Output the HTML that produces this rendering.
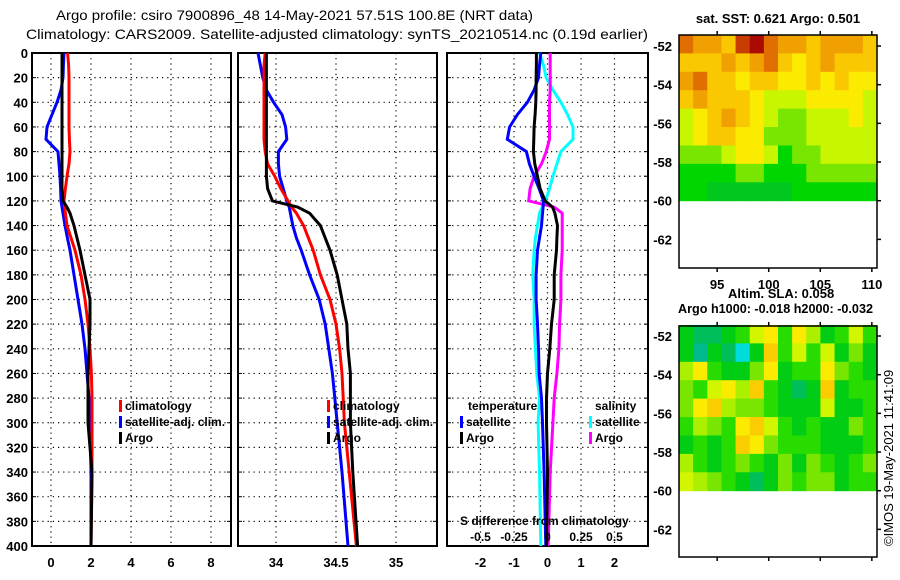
<!DOCTYPE html>
<html><head><meta charset="utf-8"><style>
html,body{margin:0;padding:0;background:#fff;}
svg{display:block;font-family:"Liberation Sans",Arial,sans-serif;}
.t{font-size:13px;font-weight:bold;fill:#000;}
.ti{font-size:14px;fill:#000;}
.lg{font-size:12px;font-weight:bold;fill:#000;}
</style></head><body>
<svg id="fig" width="900" height="580" viewBox="0 0 900 580" xmlns="http://www.w3.org/2000/svg">
<text class="ti" x="56" y="20" textLength="477" lengthAdjust="spacingAndGlyphs">Argo profile: csiro 7900896_48 14-May-2021 57.51S 100.8E (NRT data)</text>
<text class="ti" x="26" y="39" textLength="622" lengthAdjust="spacingAndGlyphs">Climatology: CARS2009. Satellite-adjusted climatology: synTS_20210514.nc (0.19d earlier)</text>
<g id="panels"></g>
<g id="maps"></g>
<text class="t" x="778" y="23" text-anchor="middle">sat. SST: 0.621 Argo: 0.501</text>
<text class="t" x="728" y="298">Altim. SLA: 0.058</text>
<text class="t" x="678" y="313" textLength="195" lengthAdjust="spacingAndGlyphs">Argo h1000: -0.018 h2000: -0.032</text>
<text x="0" y="0" transform="translate(893,546) rotate(-90)" style="font-size:13px">©IMOS 19-May-2021 11:41:09</text>
</svg>
<script>
// ---------- data ----------
const depths = [0,10,20,30,40,50,60,70,80,90,100,110,120,125,130,140,150,160,180,200,220,240,260,280,300,340,400];
// Temperature (deg C)
const tempClim = [0.83,0.88,0.9,0.9,0.9,0.9,0.9,0.92,0.95,0.9,0.8,0.72,0.65,0.68,0.72,0.8,1.0,1.2,1.5,1.7,1.85,1.95,2.02,2.05,2.05,2.05,2.0];
const tempSat  = [0.65,0.62,0.6,0.5,0.3,0.05,-0.2,-0.25,0.35,0.4,0.45,0.48,0.5,0.55,0.6,0.7,0.82,0.95,1.15,1.35,1.55,1.7,1.8,1.9,1.95,2.0,2.0];
const tempArgo = [0.55,0.55,0.55,0.55,0.55,0.55,0.55,0.55,0.55,0.55,0.55,0.55,0.6,0.8,0.95,1.15,1.3,1.45,1.7,1.95,1.95,1.9,1.85,1.85,1.85,2.05,2.0];
// Salinity (PSU)
const salClim = [33.91,33.9,33.9,33.9,33.9,33.9,33.9,33.9,33.91,33.93,33.99,34.04,34.1,34.13,34.17,34.23,34.27,34.31,34.37,34.45,34.5,34.53,34.55,34.56,34.57,34.61,34.67];
const salSat  = [33.85,33.87,33.89,33.92,33.98,34.05,34.08,34.09,34.02,34.02,34.03,34.06,34.09,34.11,34.12,34.14,34.17,34.21,34.28,34.36,34.41,34.44,34.47,34.49,34.51,34.55,34.6];
const salArgo = [33.92,33.92,33.92,33.92,33.92,33.92,33.92,33.92,33.92,33.92,33.92,33.93,33.97,34.18,34.28,34.37,34.41,34.45,34.51,34.55,34.59,34.6,34.62,34.62,34.62,34.64,34.68];
// Differences from climatology
const dTempSat  = [-0.2,-0.24,-0.27,-0.4,-0.6,-0.9,-1.13,-1.2,-0.63,-0.54,-0.4,-0.25,-0.12,-0.13,-0.15,-0.18,-0.24,-0.3,-0.34,-0.34,-0.3,-0.27,-0.25,-0.18,-0.15,-0.1,-0.05];
const dTempArgo = [-0.33,-0.33,-0.34,-0.34,-0.35,-0.37,-0.4,-0.41,-0.42,-0.38,-0.3,-0.22,-0.07,0.15,0.22,0.3,0.28,0.27,0.2,0.2,0.12,0.07,0.0,-0.03,-0.03,0.0,-0.03];
const dSalSat   = [-0.06,-0.03,-0.01,0.04,0.1,0.15,0.19,0.19,0.1,0.07,0.04,0.015,-0.015,-0.04,-0.06,-0.075,-0.09,-0.1,-0.11,-0.1,-0.1,-0.09,-0.08,-0.06,-0.07,-0.06,-0.05];
const dSalArgo  = [0.02,0.02,0.02,0.02,0.015,0.015,0.015,0.015,-0.01,-0.045,-0.1,-0.13,-0.14,0.05,0.11,0.11,0.11,0.11,0.1,0.1,0.09,0.085,0.07,0.05,0.04,0.02,0.005];
// Axis ticks
const depthTicks = [0,20,40,60,80,100,120,140,160,180,200,220,240,260,280,300,320,340,360,380,400];
const tempTicks = [0,2,4,6,8];
const salTicks = [34,34.5,35];
const salTickLabels = ["34","34.5","35"];
const diffTicks = [-2,-1,0,1,2];
const sDiffLabels = ["-0.5","-0.25","0","0.25","0.5"];
const sDiffTicks = [-0.5,-0.25,0,0.25,0.5];
// Maps
const lonTicks = [95,100,105,110];
const latTicks = [-52,-54,-56,-58,-60,-62];
const sstGrid = [
 [8,7,7,6,9,10,8,7,7,6,7,7,7,6],
 [6,6,6,7,6,7,8,6,5,6,7,6,6,6],
 [7,8,6,6,5,6,6,5,5,6,5,6,5,5],
 [6,7,6,6,6,5,4,4,4,5,5,5,5,4],
 [4,5,6,7,6,5,4,3,3,4,4,4,5,4],
 [4,5,6,6,5,5,3,3,3,4,4,4,4,4],
 [3,3,3,4,5,5,4,2,3,3,4,4,4,4],
 [2,2,2,2,3,3,2,2,2,3,3,3,3,3],
 [2,2,1,1,1,1,1,1,2,2,2,2,2,2]];
const slaGrid = [
 [3,2,2,3,4,7,8,4,8,6,3,4,7,4],
 [3,1,3,2,0,3,9,4,7,4,7,3,5,3],
 [6,8,4,3,3,5,8,3,4,4,8,5,4,3],
 [5,4,7,8,6,9,4,3,2,3,9,3,4,4],
 [5,8,9,6,5,5,4,3,3,3,7,3,3,4],
 [4,6,5,4,8,9,7,4,3,4,3,3,5,4],
 [3,4,3,4,9,8,5,4,4,4,3,3,3,4],
 [6,4,3,4,5,4,3,5,3,5,4,3,4,5],
 [7,6,5,4,3,2,3,5,4,5,5,3,4,4]];

// ---------- drawing ----------
const NS='http://www.w3.org/2000/svg';
function mk(tag, attrs, parent){const e=document.createElementNS(NS,tag);for(const k in attrs)e.setAttribute(k,attrs[k]);parent.appendChild(e);return e;}
const P=document.getElementById('panels');
const Y0=53, Y1=546;
const yD = d => Y0 + (Y1-Y0)*d/400;
function lin(d0,d1,r0,r1){return v=>r0+(v-d0)*(r1-r0)/(d1-d0);}
const panels=[
 {x0:32,x1:231,sc:lin(-0.95,9.0,32,231),ticks:tempTicks,labels:tempTicks.map(String),name:'temperature-panel'},
 {x0:238,x1:437,sc:lin(33.683,35.342,238,437),ticks:salTicks,labels:salTickLabels,name:'salinity-panel'},
 {x0:447,x1:648,sc:lin(-3,3,447,648),ticks:diffTicks,labels:diffTicks.map(String),name:'difference-panel'}];
panels.forEach((p,pi)=>{
 const g=mk('g',{},P);
 
 
 depthTicks.forEach(d=>{
  const l=mk('line',{x1:p.x0,x2:p.x1,y1:yD(d),y2:yD(d),stroke:'#000','stroke-width':1.2,'stroke-dasharray':'1.2,4'},g);
  
  
  mk('line',{x1:p.x0,x2:p.x0+4,y1:yD(d),y2:yD(d),stroke:'#000'},g);
  mk('line',{x1:p.x1,x2:p.x1-4,y1:yD(d),y2:yD(d),stroke:'#000'},g);
 });
 p.ticks.forEach((t,i)=>{
  const x=p.sc(t);
  const l=mk('line',{x1:x,x2:x,y1:Y0,y2:Y1,stroke:'#000','stroke-width':1.2,'stroke-dasharray':'1.2,4'},g);
  
  
  const tx=mk('text',{x:x,y:567,'text-anchor':'middle',class:'t'},g);
  tx.textContent=p.labels[i];
  
  
 });
 const r=mk('rect',{x:p.x0,y:Y0,width:p.x1-p.x0,height:Y1-Y0,fill:'none',stroke:'#000','stroke-width':2},g);
 
 
});
depthTicks.forEach(d=>{
 const t=mk('text',{x:28,y:yD(d)+5,'text-anchor':'end',class:'t'},P);
 t.textContent=String(d);
 
 
});
function line(vals,sc,color,name){
 const pts=vals.map((v,i)=>sc(v).toFixed(1)+','+yD(depths[i]).toFixed(1)).join(' ');
 const pl=mk('polyline',{points:pts,fill:'none',stroke:color,'stroke-width':3,'stroke-linejoin':'miter'},P);
 
 
}
const sT=panels[0].sc, sS=panels[1].sc, sDf=panels[2].sc;
const sDs = v => sDf(v*4);
line(tempSat,sT,'#0000ff','temp-satellite-line');
line(tempClim,sT,'#ff0000','temp-climatology-line');
line(tempArgo,sT,'#000','temp-argo-line');
line(salSat,sS,'#0000ff','sal-satellite-line');
line(salClim,sS,'#ff0000','sal-climatology-line');
line(salArgo,sS,'#000','sal-argo-line');
line(dSalSat,sDs,'#00ffff','sdiff-satellite-line');
line(dSalArgo,sDs,'#ff00ff','sdiff-argo-line');
line(dTempSat,sDf,'#0000ff','tdiff-satellite-line');
line(dTempArgo,sDf,'#000','tdiff-argo-line');

function legend(x,y,color,txt,name){
 const m=mk('rect',{x:x,y:y-10,width:3,height:12,fill:color},P);
 
 
 const t=mk('text',{x:x+6,y:y,class:'lg'},P);t.textContent=txt;
 
 
}
legend(119,410,'#ff0000','climatology','legend-climatology');
legend(119,426,'#0000ff','satellite-adj. clim.','legend-satellite-adj');
legend(119,442,'#000','Argo','legend-argo');
legend(327,410,'#ff0000','climatology','legend-climatology-2');
legend(327,426,'#0000ff','satellite-adj. clim.','legend-satellite-adj-2');
legend(327,442,'#000','Argo','legend-argo-2');
legend(460,426,'#0000ff','satellite','legend-temp-satellite');
legend(460,442,'#000','Argo','legend-temp-argo');
legend(589,426,'#00ffff','satellite','legend-sal-satellite');
legend(589,442,'#ff00ff','Argo','legend-sal-argo');
[[468,410,'temperature','legend-temperature-header'],[595,410,'salinity','legend-salinity-header'],[460,525,'S difference from climatology','s-difference-label']].forEach(a=>{
 const t=mk('text',{x:a[0],y:a[1],class:'lg'},P);t.textContent=a[2];
 
 
});
sDiffTicks.forEach((v,i)=>{
 const t=mk('text',{x:sDs(v),y:541,'text-anchor':'middle',class:'lg'},P);t.textContent=sDiffLabels[i];
 
 
});

// maps
const M=document.getElementById('maps');
const lonS=lin(91.3,110.5,679,877);
const LON0=91.3, LON1=110.5, LATTOP=-51.43, LATDATA=-60;
function cmapSST(v){const s=[[0,[0,170,120]],[1,[0,200,30]],[2,[0,215,0]],[3,[120,230,0]],[4,[200,245,0]],[5,[250,235,0]],[6,[250,200,0]],[7,[240,160,0]],[8,[225,110,0]],[9,[200,60,0]],[10,[170,10,0]]];return interp(s,v);}
function cmapSLA(v){const s=[[0,[0,220,220]],[1,[0,185,140]],[2,[0,190,90]],[3,[0,205,20]],[4,[40,220,0]],[5,[120,230,0]],[6,[170,240,0]],[7,[210,245,0]],[8,[250,235,0]],[9,[250,205,0]],[10,[245,180,0]]];return interp(s,v);}
function interp(s,v){for(let i=0;i<s.length-1;i++){if(v<=s[i+1][0]){const f=(v-s[i][0])/(s[i+1][0]-s[i][0]);const c=s[i][1].map((a,k)=>Math.round(a+(s[i+1][1][k]-a)*f));return 'rgb('+c+')';}}return 'rgb('+s[s.length-1][1]+')';}
function drawMap(top,bottom,latS,grid,cmap,name,lonLabels){
 const g=mk('g',{},M);
 
 
 const rows=grid.length, cols=grid[0].length;
 const dLat=(LATTOP-LATDATA)/rows, dLon=(LON1-LON0)/cols;
 grid.forEach((row,r)=>row.forEach((v,c)=>{
  const x0=lonS(LON0+c*dLon), x1=lonS(LON0+(c+1)*dLon);
  const y0=latS(LATTOP-r*dLat), y1=latS(LATTOP-(r+1)*dLat);
  const cell=mk('rect',{x:x0,y:y0,width:x1-x0+0.5,height:y1-y0+0.5,fill:cmap(v)},g);
  
  
 }));
 const fr=mk('rect',{x:679,y:top,width:198,height:bottom-top,fill:'none',stroke:'#000','stroke-width':1.5},g);
 
 
 latTicks.forEach(l=>{
  const y=latS(l);
  mk('line',{x1:877,x2:881,y1:y,y2:y,stroke:'#000','stroke-width':1.5},g);
  const t=mk('text',{x:672,y:y+5,'text-anchor':'end',class:'t'},g);t.textContent=String(l);
  
  
 });
 lonTicks.forEach(l=>{
  const x=lonS(l);
  mk('line',{x1:x,x2:x,y1:top,y2:top-4,stroke:'#000','stroke-width':1.5},g);
  mk('line',{x1:x,x2:x,y1:bottom,y2:bottom+4,stroke:'#000','stroke-width':1.5},g);
  if(lonLabels){const t=mk('text',{x:x,y:bottom+21,'text-anchor':'middle',class:'t'},g);t.textContent=String(l);
   
   }
 });
}
drawMap(35,268,lin(-52,-60,46,200.7),sstGrid,cmapSST,'sst-map',true);
drawMap(326,557,lin(-52,-60,336,490.7),slaGrid,cmapSLA,'sla-map',false);
</script>
</body></html>
